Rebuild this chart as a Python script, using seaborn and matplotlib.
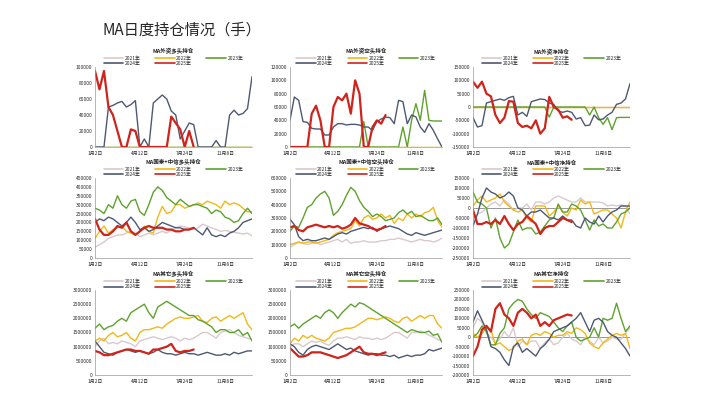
import numpy as np
import pandas as pd
import matplotlib
matplotlib.use("Agg")
import matplotlib.pyplot as plt
from matplotlib.lines import Line2D
import seaborn as sns

sns.set_theme(style="white")
plt.rcParams['font.family'] = ['Noto Sans CJK SC', 'DejaVu Sans']

years = ["2021年", "2022年", "2023年", "2024年", "2025年"]
colors = ["#d9c9cc", "#f2b817", "#5ea22e", "#4d5872", "#d0231b"]
xtick_labels = ["1月2日", "4月12日", "7月24日", "11月8日"]
xtick_pos = [0, 10, 20, 29]

titles = ["MA外资多头持仓", "MA外资空头持仓", "MA外资净持仓",
          "MA国泰+中信多头持仓", "MA国泰+中信空头持仓", "MA国泰+中信净持仓",
          "MA其它多头持仓", "MA其它空头持仓", "MA其它净持仓"]
ylims = [(0, 100000, 20000), (0, 120000, 20000), (-150000, 150000, 50000),
         (0, 450000, 50000), (0, 600000, 100000), (-250000, 150000, 50000),
         (0, 3000000, 500000), (0, 3000000, 500000), (-200000, 250000, 50000)]

Z = [0] * 36
p1_2024 = [0,0,0,50000,52000,55000,57000,50000,53000,58000,0,10000,0,55000,60000,65000,60000,45000,40000,10000,20000,30000,28000,0,0,0,0,8000,0,0,40000,46000,40000,42000,48000,88000]
p1_2025 = [95000,72000,95000,50000,40000,20000,0,0,22000,20000,0,0,0,0,0,0,0,38000,30000,22000,0,20000,0]
p2_2023 = [0]*17 + [38000] + [0]*8 + [30000,0,40000,65000,40000,85000,40000,39000,39000,39000]
p2_2024 = [40000,75000,70000,38000,37000,28000,27000,27000,18000,18000,30000,35000,35000,33000,34000,34000,33000,30000,30000,25000,38000,42000,45000,44000,35000,70000,68000,35000,48000,45000,30000,22000,35000,25000,12000,0]
p2_2025 = [0,0,0,0,0,50000,62000,40000,0,0,60000,75000,70000,80000,50000,100000,80000,0,0,30000,40000,35000,48000]
p3_2023 = [0]*17 + [-38000] + [0]*8 + [-30000,0,-40000,-65000,-40000,-85000,-40000,-39000,-39000,-39000]
p3_2024 = [-40000,-75000,-70000,15000,20000,25000,30000,25000,35000,40000,-30000,-20000,-35000,20000,25000,30000,28000,15000,10000,-15000,-20000,-15000,-20000,-45000,-40000,-70000,-68000,-30000,-48000,-45000,-30000,-20000,10000,15000,30000,88000]
p3_2025 = [95000,72000,95000,50000,40000,-30000,-60000,-40000,22000,20000,-60000,-75000,-70000,-80000,-50000,-100000,-80000,38000,0,-10000,-40000,-35000,-48000]

p4 = [
 [60000,75000,90000,110000,120000,130000,130000,140000,150000,140000,120000,130000,140000,130000,140000,150000,140000,160000,170000,180000,175000,170000,160000,170000,190000,180000,170000,160000,150000,155000,150000,145000,140000,135000,140000,125000],
 [110000,150000,180000,140000,160000,170000,180000,150000,140000,130000,150000,180000,150000,140000,230000,290000,250000,260000,300000,300000,280000,290000,300000,310000,300000,320000,310000,300000,280000,320000,300000,310000,300000,280000,260000,260000],
 [280000,270000,250000,300000,280000,350000,300000,280000,320000,330000,260000,240000,300000,370000,400000,380000,340000,320000,300000,330000,310000,290000,300000,300000,290000,280000,250000,270000,260000,230000,220000,200000,210000,250000,280000,250000],
 [200000,220000,210000,230000,220000,200000,180000,200000,230000,200000,160000,170000,150000,160000,180000,200000,190000,180000,170000,170000,160000,160000,170000,150000,130000,170000,130000,120000,130000,120000,140000,150000,170000,200000,210000,220000],
 [220000,160000,130000,130000,150000,180000,170000,200000,150000,130000,150000,170000,180000,170000,170000,170000,160000,160000,150000,150000,160000,160000,170000]]
p5 = [
 [80000,100000,120000,110000,100000,110000,120000,100000,110000,120000,130000,140000,120000,140000,110000,120000,120000,130000,120000,120000,120000,130000,130000,140000,140000,150000,140000,130000,120000,130000,140000,130000,130000,120000,130000,150000],
 [100000,110000,120000,110000,120000,120000,110000,120000,130000,140000,170000,190000,200000,210000,220000,280000,240000,300000,320000,290000,300000,330000,300000,320000,260000,300000,280000,330000,300000,330000,310000,340000,350000,380000,280000,230000],
 [200000,240000,230000,300000,380000,400000,450000,480000,500000,450000,320000,350000,400000,470000,530000,500000,430000,380000,350000,310000,330000,310000,280000,290000,300000,340000,360000,330000,350000,310000,320000,300000,280000,280000,300000,250000],
 [290000,250000,160000,130000,140000,130000,130000,140000,150000,140000,160000,180000,190000,180000,200000,210000,220000,230000,220000,230000,200000,220000,230000,240000,230000,220000,200000,180000,170000,190000,180000,170000,180000,190000,200000,210000],
 [230000,240000,210000,200000,230000,240000,250000,240000,230000,240000,230000,240000,220000,230000,250000,300000,260000,250000,240000,220000,210000,220000,240000]]
p6 = [
 [-60000,-30000,-20000,0,20000,30000,10000,40000,20000,-10000,0,0,20000,-10000,30000,30000,20000,30000,50000,60000,50000,40000,30000,30000,50000,30000,30000,30000,30000,25000,10000,15000,10000,15000,10000,-30000],
 [10000,40000,60000,30000,40000,50000,70000,30000,10000,-10000,-20000,-10000,-50000,-70000,10000,10000,10000,-40000,-20000,10000,-20000,-40000,0,-10000,40000,20000,30000,-30000,-20000,-10000,-10000,-30000,-50000,-100000,-20000,30000],
 [80000,30000,20000,0,-100000,-50000,-150000,-200000,-180000,-120000,-60000,-110000,-100000,-100000,-130000,-120000,-90000,-60000,-50000,20000,-20000,-20000,20000,10000,-10000,-60000,-110000,-60000,-90000,-80000,-100000,-100000,-70000,-30000,-20000,0],
 [-90000,-30000,50000,100000,80000,70000,50000,60000,80000,60000,0,-10000,-40000,-20000,-20000,-10000,-30000,-50000,-50000,-60000,-40000,-60000,-60000,-90000,-100000,-50000,-70000,-80000,-40000,-70000,-40000,-20000,-10000,10000,10000,10000],
 [-10000,-80000,-80000,-70000,-80000,-60000,-80000,-40000,-80000,-110000,-80000,-70000,-40000,-60000,-80000,-130000,-100000,-90000,-90000,-70000,-50000,-60000,-70000]]
p7 = [
 [1000000,1200000,1300000,1100000,1150000,1100000,1200000,1150000,1100000,1000000,1200000,1250000,1300000,1350000,1300000,1250000,1300000,1350000,1300000,1200000,1300000,1250000,1300000,1400000,1500000,1500000,1400000,1300000,1500000,1550000,1600000,1500000,1400000,1350000,1300000,1250000],
 [1200000,1300000,1200000,1400000,1500000,1350000,1400000,1500000,1300000,1200000,1500000,1600000,1600000,1650000,1700000,1650000,1800000,1900000,2000000,2050000,2000000,2000000,2050000,2100000,1900000,1850000,2000000,2050000,1900000,2000000,2100000,2000000,2100000,2200000,1800000,1600000],
 [1650000,1800000,1600000,1700000,1750000,1900000,2000000,1900000,2200000,2300000,2400000,2500000,2200000,2000000,2400000,2500000,2600000,2500000,2400000,2300000,2200000,2100000,2100000,1950000,1900000,1800000,1700000,1500000,1600000,1600000,1500000,1500000,1600000,1400000,1500000,1200000],
 [1200000,1000000,800000,750000,700000,800000,850000,900000,850000,800000,850000,800000,750000,800000,900000,800000,750000,750000,700000,750000,800000,750000,750000,700000,750000,800000,750000,700000,700000,750000,700000,800000,750000,800000,850000,850000],
 [850000,800000,700000,700000,750000,800000,850000,900000,900000,850000,850000,800000,750000,900000,900000,950000,1000000,1100000,850000,800000,850000,850000,900000]]
p8 = [
 [1000000,1100000,1100000,1000000,1100000,1200000,1150000,1200000,1100000,1050000,1200000,1300000,1300000,1350000,1300000,1250000,1350000,1300000,1300000,1250000,1300000,1250000,1300000,1400000,1500000,1500000,1400000,1300000,1500000,1500000,1550000,1500000,1400000,1350000,1250000,1200000],
 [1100000,1300000,1200000,1400000,1300000,1400000,1300000,1250000,1200000,1300000,1500000,1550000,1600000,1650000,1650000,1700000,1800000,1900000,2000000,2000000,1950000,2000000,2050000,2000000,1900000,1850000,2000000,2050000,1900000,2000000,2100000,2000000,2100000,2100000,1800000,1650000],
 [1700000,1800000,1650000,1800000,1900000,2000000,2100000,2000000,2200000,2300000,2200000,2000000,2200000,2350000,2500000,2400000,2550000,2500000,2400000,2300000,2200000,2100000,2000000,1900000,1800000,1700000,1600000,1500000,1600000,1550000,1500000,1500000,1550000,1400000,1450000,1150000],
 [1100000,1000000,800000,700000,900000,1000000,1050000,1000000,950000,900000,1000000,1100000,1000000,900000,950000,850000,800000,750000,700000,750000,750000,700000,700000,650000,700000,600000,650000,700000,650000,700000,700000,750000,900000,850000,900000,950000],
 [950000,800000,650000,650000,700000,800000,800000,800000,750000,700000,650000,600000,650000,700000,800000,900000,1000000,800000,750000,750000,700000,750000,800000]]
p9 = [
 [50000,100000,80000,20000,0,-30000,-10000,30000,0,50000,-50000,-20000,-40000,-20000,-20000,-60000,-30000,-10000,-40000,-30000,0,20000,-10000,-20000,-40000,0,-20000,-40000,0,-30000,-20000,0,-10000,-10000,20000,50000],
 [20000,0,20000,50000,40000,-40000,-30000,-50000,-70000,-60000,-20000,-10000,-40000,10000,20000,10000,30000,20000,0,10000,10000,30000,20000,50000,40000,20000,-30000,-50000,-60000,-30000,-10000,10000,20000,10000,20000,-60000],
 [0,20000,60000,30000,-40000,-40000,20000,50000,150000,180000,200000,190000,150000,120000,100000,130000,120000,110000,80000,50000,30000,60000,80000,0,-20000,-10000,0,50000,0,100000,90000,100000,180000,100000,30000,60000],
 [80000,140000,90000,40000,-50000,-60000,-80000,-120000,-150000,-50000,-30000,-80000,-60000,-80000,-100000,-60000,-40000,-10000,30000,40000,50000,60000,80000,100000,130000,80000,30000,90000,100000,80000,30000,10000,0,-30000,-60000,-100000],
 [-100000,-50000,40000,60000,30000,150000,180000,120000,100000,60000,130000,150000,130000,100000,120000,60000,80000,60000,90000,100000,110000,120000,115000]]

panels = [
 [Z, Z, Z, p1_2024, p1_2025],
 [Z, Z, p2_2023, p2_2024, p2_2025],
 [Z, Z, p3_2023, p3_2024, p3_2025],
 p4, p5, p6, p7, p8, p9]

fig = plt.figure(figsize=(7.19, 4.05), dpi=100)
fig.text(103/719, 1 - 30/405, "MA日度持仓情况（手）", fontsize=11, va="center", ha="left")

cols = [(95, 252), (290, 442), (473, 630)]
rows = [(67, 147), (178, 258), (290, 375)]
W, H = 719, 405
leg_order = [0, 3, 1, 4, 2]
for i, (title, series, (ymin, ymax, ystep)) in enumerate(zip(titles, panels, ylims)):
    c0, c1 = cols[i % 3]
    r0, r1 = rows[i // 3]
    ax = fig.add_axes([c0 / W, 1 - r1 / H, (c1 - c0) / W, (r1 - r0) / H])
    recs = []
    for y, vals in zip(years, series):
        for k, v in enumerate(vals):
            recs.append((k, v, y))
    df = pd.DataFrame(recs, columns=["x", "v", "year"])
    sns.lineplot(data=df, x="x", y="v", hue="year", hue_order=years,
                 palette=colors, ax=ax, linewidth=1.0, legend=False)
    for ln in ax.get_lines()[4:5]:
        ln.set_linewidth(1.6)
    ax.set_xlim(0, 35)
    ax.set_ylim(ymin, ymax)
    yt = np.arange(ymin, ymax + 1, ystep)
    ax.set_yticks(yt)
    ax.set_yticklabels([f"{int(t)}" for t in yt], fontsize=3.5)
    ax.set_xticks(xtick_pos)
    ax.set_xticklabels(xtick_labels, fontsize=3.5)
    ax.tick_params(axis="y", length=0, pad=2)
    ax.tick_params(axis="x", length=0, pad=3)
    ax.set_xlabel(""); ax.set_ylabel("")
    for s in ["top", "right"]:
        ax.spines[s].set_visible(False)
    for s in ["left", "bottom"]:
        ax.spines[s].set_color("#999999"); ax.spines[s].set_linewidth(0.5)
    if ymin < 0:
        ax.axhline(0, color="#888888", lw=0.6, zorder=0)
    ax.set_title(title, fontsize=4, pad=10, fontweight="bold")
    handles = [Line2D([0], [0], color=colors[j], lw=1.2) for j in leg_order]
    labels = [years[j] for j in leg_order]
    ax.legend(handles, labels, ncol=3, fontsize=3.5, frameon=False,
              loc="lower center", bbox_to_anchor=(0.5, 0.98), handlelength=4,
              columnspacing=3, labelspacing=0.05, borderpad=0, handletextpad=0.3)

fig.savefig("out.png", dpi=100)
